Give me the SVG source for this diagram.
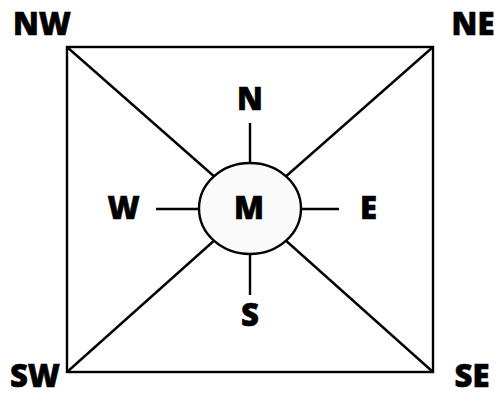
<svg xmlns="http://www.w3.org/2000/svg" width="495" height="395" viewBox="0 0 495 395">
<style>
.ln{stroke:#000;stroke-width:2.4;fill:none}
.lbl{font-family:"Open Sans","Noto Sans","DejaVu Sans",sans-serif;font-weight:800;font-size:31px;text-anchor:middle;fill:#000;stroke:#000;stroke-width:0.6}
</style>
<rect width="495" height="395" fill="#fff"/>
<g id="connectors">
<rect class="ln" x="67" y="47" width="366" height="325"/>
<line class="ln" x1="67" y1="47" x2="213.7" y2="176"/>
<line class="ln" x1="433" y1="47" x2="286.3" y2="176"/>
<line class="ln" x1="67" y1="372" x2="213.7" y2="241"/>
<line class="ln" x1="433" y1="372" x2="286.3" y2="241"/>
<line class="ln" x1="250" y1="123" x2="250" y2="163"/>
<line class="ln" x1="250" y1="254" x2="250" y2="295"/>
<line class="ln" x1="156" y1="209" x2="199" y2="209"/>
<line class="ln" x1="301" y1="209" x2="339" y2="209"/>
</g>
<g id="M">
<ellipse cx="250" cy="208.5" rx="51" ry="45.5" fill="#fafafa" stroke="#000" stroke-width="2.4"/>
<text class="lbl" x="249" y="219">M</text>
</g>
<g id="N"><text class="lbl" x="250" y="110">N</text></g>
<g id="S"><text class="lbl" x="250" y="326">S</text></g>
<g id="W"><text class="lbl" x="123.5" y="219">W</text></g>
<g id="E"><text class="lbl" x="368.5" y="219">E</text></g>
<g id="NW"><text class="lbl" x="42" y="35">NW</text></g>
<g id="NE"><text class="lbl" x="473" y="35">NE</text></g>
<g id="SW"><text class="lbl" x="35" y="387">SW</text></g>
<g id="SE"><text class="lbl" x="472" y="387">SE</text></g>
</svg>
